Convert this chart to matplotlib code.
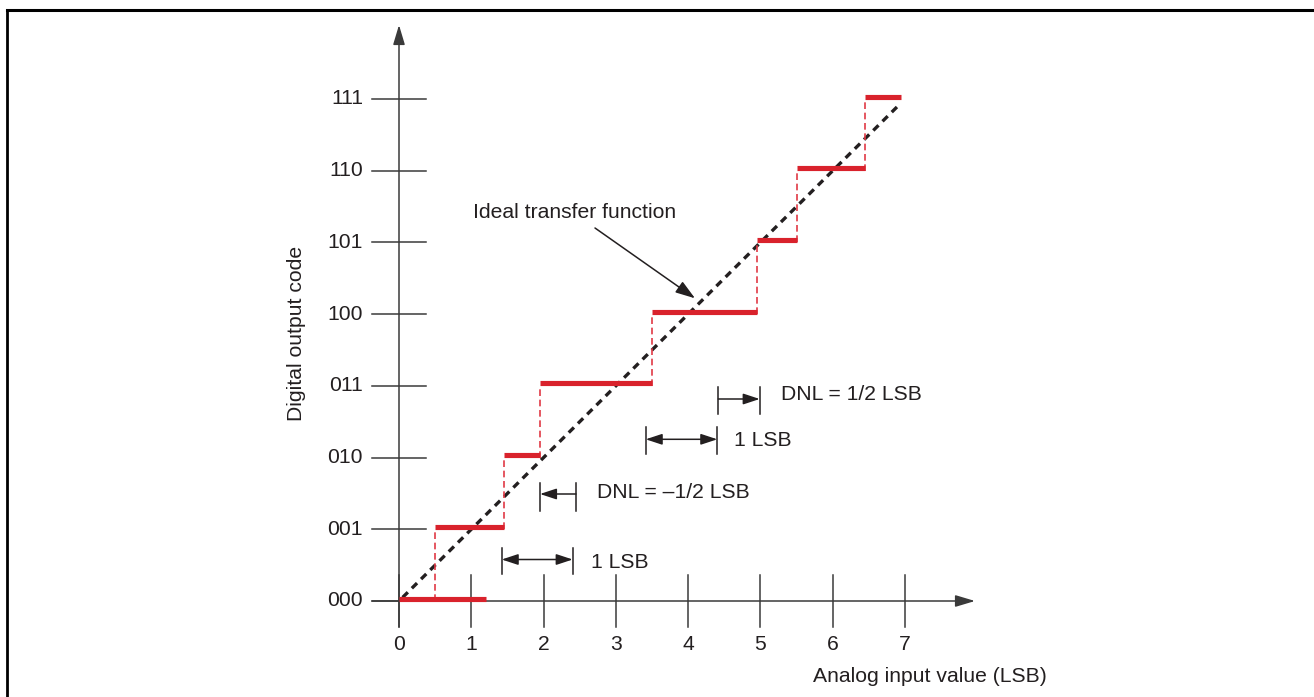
import matplotlib
matplotlib.use('Agg')
import matplotlib.pyplot as plt
import matplotlib.transforms as mtransforms
from matplotlib.lines import Line2D

plt.rcParams['font.family'] = ['Liberation Sans', 'DejaVu Sans']

# ---- data ----
codes = ['000', '001', '010', '011', '100', '101', '110', '111']
x_ticks = [0, 1, 2, 3, 4, 5, 6, 7]
step_start = [0.0, 0.5, 1.45, 1.95, 3.5, 4.95, 5.5, 6.45]
step_end = [1.2, 1.45, 1.95, 3.5, 4.95, 5.5, 6.45, 6.95]
ideal_x = [0.05, 6.9]
ideal_y = [0.05, 6.9]

W, H = 1314, 697
fig = plt.figure(figsize=(W / 100, H / 100), dpi=100)
ax = fig.add_axes([0, 0, 1, 1])
ux = (905 - 399) / 7.0
uy = (601 - 99) / 7.0
ax.set_xlim(-399 / ux, (W - 399) / ux)
ax.set_ylim(-(H - 601) / uy, 601 / uy)
ax.axis('off')

AX = '#3a3a3a'
INK = '#231f20'
RED = '#d9222c'
RED_D = '#e03a46'
FS = 15.2

# frame
fig.add_artist(Line2D([7 / W, 1], [1 - 10 / H, 1 - 10 / H], color='black', lw=2.2,
                      transform=fig.transFigure, solid_capstyle='projecting'))
fig.add_artist(Line2D([7 / W, 7 / W], [0, 1 - 10 / H], color='black', lw=2.0,
                      transform=fig.transFigure))

# axes with arrows
ax.annotate('', xy=(0, (601 - 25) / uy), xytext=(0, -26 / uy),
            arrowprops=dict(arrowstyle='-|>,head_length=12,head_width=3.6', color=AX,
                            lw=1.1, shrinkA=0, shrinkB=0, mutation_scale=1))
ax.annotate('', xy=((975 - 399) / ux, 0), xytext=(-27 / ux, 0),
            arrowprops=dict(arrowstyle='-|>,head_length=12,head_width=3.6', color=AX,
                            lw=1.1, shrinkA=0, shrinkB=0, mutation_scale=1))

# ticks
tx = 27 / ux
ty = 26 / uy
for i, c in enumerate(codes):
    ax.plot([-tx, tx], [i, i], color=AX, lw=1.1)
    ax.text(-36 / ux, i, c, ha='right', va='center', fontsize=FS, color=INK)
for v in x_ticks:
    ax.plot([v, v], [-ty, ty], color=AX, lw=1.1)
    ax.text(v, -44 / uy, str(v), ha='center', va='center', fontsize=FS, color=INK)

ax.text((930 - 399) / ux, -75 / uy, 'Analog input value (LSB)', ha='center', va='center',
        fontsize=FS, color=INK)
ax.text((296 - 399) / ux, (601 - 333) / uy, 'Digital output code', ha='center', va='center',
        rotation=90, fontsize=FS, color=INK)

# ideal transfer function
ax.plot(ideal_x, ideal_y, color=INK, lw=2.4, dashes=(2.2, 1.7), solid_capstyle='butt')

# steps (sit just above the code level)
up = ax.transData + mtransforms.ScaledTranslation(0, 2.5 / 100, fig.dpi_scale_trans)
for i in range(len(codes)):
    ax.plot([step_start[i], step_end[i]], [i, i], color=RED, lw=3.7,
            solid_capstyle='butt', transform=up, zorder=3)
    if i > 0:
        ax.plot([step_start[i], step_start[i]], [i - 1, i], color=RED_D, lw=1.2,
                dashes=(4, 2.2), zorder=2)

# annotation for ideal line
ax.text((574.7 - 399) / ux, (601 - 212) / uy, 'Ideal transfer function', ha='center',
        va='center', fontsize=FS, color=INK)
ax.annotate('', xy=((695 - 399) / ux, (601 - 298.3) / uy),
            xytext=((595 - 399) / ux, (601 - 228) / uy),
            arrowprops=dict(arrowstyle='-|>,head_length=12,head_width=4', color=INK,
                            lw=1.1, shrinkA=0, shrinkB=0, mutation_scale=1))

# brackets
def px2d(xp, yp):
    return (xp - 399) / ux, (601 - yp) / uy

brackets = [
    # x_left, x_right, y_top, y_bot, y_arrow, kind, text, text_x, text_y
    (501.7, 572.7, 547.7, 574.0, 559.5, 'both', '1 LSB', 590.7, 562),
    (540.0, 576.0, 483.0, 511.0, 494.0, 'left', 'DNL = \u20131/2 LSB', 597, 492),
    (645.7, 717.3, 427.0, 454.0, 439.3, 'both', '1 LSB', 734, 441),
    (718.3, 759.7, 387.0, 414.0, 399.0, 'right', 'DNL = 1/2 LSB', 780.7, 395),
]
for xl, xr, yt, yb, ya, kind, txt, txx, txy in brackets:
    x1, y1 = px2d(xl, yt)
    x2, y2 = px2d(xr, yb)
    _, yaa = px2d(0, ya)
    ax.plot([x1, x1], [y1, y2], color=INK, lw=1.1)
    ax.plot([x2, x2], [y1, y2], color=INK, lw=1.1)
    style = {'both': '<|-|>', 'left': '<|-', 'right': '-|>'}[kind]
    ax.annotate('', xy=(x2, yaa), xytext=(x1, yaa),
                arrowprops=dict(arrowstyle=style + ',head_length=10,head_width=3.3',
                                color=INK, lw=1.1, shrinkA=0, shrinkB=0, mutation_scale=1))
    tx_, ty_ = px2d(txx, txy)
    ax.text(tx_, ty_, txt, ha='left', va='center', fontsize=FS, color=INK)

fig.savefig('out.png', dpi=100)
